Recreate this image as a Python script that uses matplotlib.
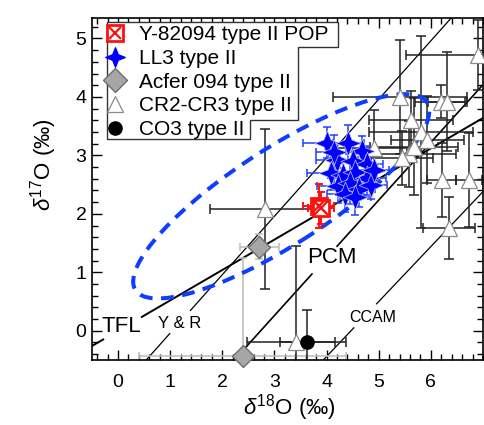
import numpy as np
import matplotlib
matplotlib.use('Agg')
import matplotlib.pyplot as plt
from matplotlib.patches import Ellipse, Polygon
from matplotlib.lines import Line2D
from matplotlib.ticker import MultipleLocator
from matplotlib.path import Path

plt.rcParams['font.family'] = ['Liberation Sans', 'DejaVu Sans']
plt.rcParams['mathtext.fontset'] = 'custom'
plt.rcParams['mathtext.rm'] = 'Liberation Sans'
plt.rcParams['mathtext.it'] = 'Liberation Sans:italic'

# ---------------- data ----------------
y82_x = [3.85, 3.90]
y82_y = [2.13, 2.10]
y82_xerr = [0.30, 0.25]
y82_yerr = [0.38, 0.28]

ll3_x = [4.00, 4.42, 4.68, 4.20, 4.50, 4.78, 4.08, 4.32, 4.55, 4.78, 4.22, 4.45, 4.62, 4.86, 4.35, 4.55, 4.90, 4.15]
ll3_y = [3.22, 3.22, 3.08, 2.92, 2.90, 2.86, 2.70, 2.66, 2.72, 2.62, 2.48, 2.52, 2.42, 2.50, 2.34, 2.28, 2.75, 3.05]
ll3_xerr = [0.45, 0.30, 0.30, 0.40, 0.35, 0.30, 0.45, 0.30, 0.35, 0.35, 0.40, 0.30, 0.30, 0.30, 0.35, 0.30, 0.30, 0.35]
ll3_yerr = [0.27, 0.30, 0.25, 0.30, 0.30, 0.30, 0.30, 0.25, 0.30, 0.30, 0.30, 0.35, 0.30, 0.25, 0.30, 0.30, 0.30, 0.30]

acfer_x = [2.71, 2.39]
acfer_y = [1.44, -0.43]
acfer_xerr = [0.37, 1.98]
acfer_yerr = [0.22, 1.68]

cr_x = [2.81, 3.42, 6.35, 6.21, 6.73, 6.90, 5.41, 6.19, 6.30, 5.62, 5.81, 5.93, 4.91, 5.58, 5.45, 5.68]
cr_y = [2.08, -0.20, 1.76, 2.58, 2.58, 4.72, 4.00, 3.92, 3.92, 3.60, 3.40, 3.27, 3.13, 3.02, 2.96, 3.15]
cr_xerr = [1.05, 0.95, 0.50, 0.28, 0.25, 1.38, 1.29, 0.50, 0.35, 0.80, 1.00, 0.70, 0.75, 0.90, 0.60, 0.85]
cr_yerr = [1.37, 1.65, 0.53, 0.63, 0.80, 0.60, 0.98, 0.28, 0.85, 0.50, 1.65, 0.75, 0.65, 0.56, 0.46, 0.83]

co3_x = [3.63]
co3_y = [-0.20]
co3_xerr = [0.53]
co3_yerr = [0.56]

# reference lines: slope, intercept, drawn x-segments (gaps for labels)
tfl = (0.52, 0.0, [(-0.5, -0.27), (0.44, 7.0)])
yr = (1.00, -1.04, [(0.54, 1.0), (1.38, 6.5)])
pcm = (0.987, -2.70, [(2.2, 3.73), (4.19, 7.0)])
ccam = (0.94, -4.2, [(3.9, 4.53), (4.95, 7.0)])

legend_labels = ['Y-82094 type II POP', 'LL3 type II', 'Acfer 094 type II',
                 'CR2-CR3 type II', 'CO3 type II']

# ---------------- figure ----------------
W, H = 484, 425
fig = plt.figure(figsize=(W / 100, H / 100), dpi=100)
ax = fig.add_axes([92 / W, 1 - 360 / H, (483 - 92) / W, (360 - 18) / H])
ax.set_xlim(-0.5, 7.0)
ax.set_ylim(-0.5, 5.35)

def draw_line(spec, lw):
    m, b, segs = spec
    for x0, x1 in segs:
        xs = np.array([x0, x1])
        ax.plot(xs, m * xs + b, color='black', lw=lw, zorder=1.5, solid_capstyle='butt')

draw_line(tfl, 1.4)
draw_line(yr, 0.9)
draw_line(pcm, 1.2)
draw_line(ccam, 0.9)

ax.text(0.07, 0.07, 'TFL', fontsize=16, ha='center', va='center', zorder=2)
ax.text(1.19, 0.12, 'Y & R', fontsize=12, ha='center', va='center', zorder=2)
ax.text(4.10, 1.25, 'PCM', fontsize=16, ha='center', va='center', zorder=2)
ax.text(4.88, 0.22, 'CCAM', fontsize=11.5, ha='center', va='center', zorder=2)

# error bars
ax.errorbar(acfer_x, acfer_y, xerr=acfer_xerr, yerr=acfer_yerr, fmt='none',
            ecolor='#c0c0c0', elinewidth=1.2, capsize=3, capthick=1.2, zorder=2)
ax.errorbar(cr_x, cr_y, xerr=cr_xerr, yerr=cr_yerr, fmt='none',
            ecolor='#222222', elinewidth=1.1, capsize=3.5, capthick=1.1, zorder=2.2)
ax.errorbar(co3_x, co3_y, xerr=co3_xerr, yerr=co3_yerr, fmt='none',
            ecolor='#222222', elinewidth=1.1, capsize=3.5, capthick=1.1, zorder=2.2)
ax.errorbar(ll3_x, ll3_y, xerr=ll3_xerr, yerr=ll3_yerr, fmt='none',
            ecolor='#1f3fff', elinewidth=1.1, capsize=3, capthick=1.1, zorder=2.4)
ax.errorbar(y82_x, y82_y, xerr=y82_xerr, yerr=y82_yerr, fmt='none',
            ecolor='#ff1010', elinewidth=1.4, capsize=3, capthick=1.4, zorder=3.6)

# ellipse
ell = Ellipse((3.13, 2.30), width=6.45, height=1.70, angle=29.4, fill=False,
              edgecolor='#0d3dff', lw=2.9, linestyle=(0, (3.2, 2.1)), zorder=2.6)
ax.add_patch(ell)

star = Path.unit_regular_star(4, innerCircle=0.40)

ax.plot(acfer_x, acfer_y, 'D', ms=11, mfc='#a6a6a6', mec='#6e6e6e', mew=1.0, ls='none',
        zorder=3, clip_on=False)
ax.plot(cr_x, cr_y, '^', ms=12, mfc='white', mec='#8a8a8a', mew=0.9, ls='none', zorder=3)
ax.plot(co3_x, co3_y, 'o', ms=9.5, mfc='black', mec='black', ls='none', zorder=3.1)
ax.plot(ll3_x, ll3_y, marker=star, ms=18, mfc='#0000ff', mec='#c8c8ff', mew=0.5, ls='none', zorder=3.2)
ax.plot(y82_x, y82_y, 's', ms=12, mfc='white', mec='#ff1010', mew=2.0, ls='none', zorder=3.8)
ax.plot(y82_x, y82_y, 'x', ms=10, mec='#ff1010', mew=1.6, ls='none', zorder=3.9)

# axes styling
ax.xaxis.set_major_locator(MultipleLocator(1))
ax.xaxis.set_minor_locator(MultipleLocator(0.2))
ax.yaxis.set_major_locator(MultipleLocator(1))
ax.yaxis.set_minor_locator(MultipleLocator(0.2))
ax.set_xticks([0, 1, 2, 3, 4, 5, 6])
ax.tick_params(which='both', direction='in', top=True, right=True, width=1.0, color='black')
ax.tick_params(which='major', length=7)
ax.tick_params(which='minor', length=4)
ax.tick_params(axis='x', which='major', labelsize=14, pad=10)
ax.tick_params(axis='y', which='major', labelsize=14, pad=4)
for s in ax.spines.values():
    s.set_linewidth(1.2)

ax.set_xlabel(r'$\delta^{18}$O (‰)', fontsize=16)
ax.set_ylabel(r'$\delta^{17}$O (‰)', fontsize=16)
ax.xaxis.set_label_coords(0.505, -0.094)
ax.yaxis.set_label_coords(-0.085, 0.573)

# legend frame (stepped)
pts = [(107, 22), (338, 22), (338, 47), (298, 47), (298, 120), (250, 120), (250, 139), (107, 139)]
poly = Polygon([(px / W, 1 - py / H) for px, py in pts], closed=True, transform=fig.transFigure,
               facecolor='white', edgecolor='#333333', lw=1.0, zorder=4.5, clip_on=False)
ax.add_patch(poly)

h_y82 = (Line2D([], [], marker='s', ms=11, mfc='white', mec='#ff1010', mew=2.0, ls='none'),
         Line2D([], [], marker='x', ms=9, mec='#ff1010', mew=1.6, ls='none'))
h_ll3 = Line2D([], [], marker=star, ms=14, mfc='#0000ff', mec='#0000ff', ls='none')
h_acf = Line2D([], [], marker='D', ms=12, mfc='#a6a6a6', mec='#6e6e6e', ls='none')
h_cr = Line2D([], [], marker='^', ms=12, mfc='white', mec='#8a8a8a', mew=0.9, ls='none')
h_co3 = Line2D([], [], marker='o', ms=9.5, mfc='black', mec='black', ls='none')
leg = ax.legend([h_y82, h_ll3, h_acf, h_cr, h_co3], legend_labels, loc='upper left',
                bbox_to_anchor=(104 / W, 1 - 25.0 / H), bbox_transform=fig.transFigure,
                frameon=False, fontsize=15, labelspacing=0.23, handletextpad=0.62,
                handlelength=1.05, borderpad=0, borderaxespad=0)
leg.set_zorder(5)

fig.savefig('out.png', dpi=100)
